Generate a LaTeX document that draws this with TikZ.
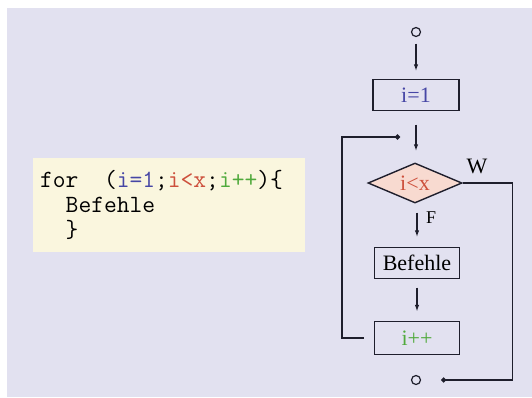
\documentclass[tikz,border=0pt]{standalone}
\usepackage{fontspec}
\setmainfont{Liberation Serif}
\usetikzlibrary{arrows.meta,shapes.geometric}

\definecolor{bglila}{RGB}{226,225,240}
\definecolor{codegelb}{RGB}{250,246,222}
\definecolor{rautefill}{RGB}{248,218,208}
\definecolor{linie}{RGB}{30,30,44}
\definecolor{blau}{RGB}{70,70,165}
\definecolor{rot}{RGB}{205,80,60}
\definecolor{gruen}{RGB}{80,170,60}

\begin{document}
\begin{tikzpicture}[x=1pt, y=-1pt,
	kasten/.style={draw=linie, line width=1.4pt, minimum width=86pt, minimum height=31pt, inner sep=0pt, font=\fontsize{22}{24}\selectfont},
	raute/.style={draw=linie, line width=1.4pt, fill=rautefill, diamond, aspect=2.35, minimum width=94pt, minimum height=40pt, inner sep=0pt, font=\fontsize{22}{24}\selectfont},
	punkt/.style={draw=linie, line width=1.2pt, circle, minimum size=9pt, inner sep=0pt},
	pfeil/.style={draw=linie, line width=1.4pt, -{Latex[length=7pt,width=4.5pt]}},
	linie/.style={draw=linie, line width=1.4pt},
	code/.style={anchor=base west, inner sep=0pt, font=\ttfamily\fontsize{24.8}{28}\selectfont}]

	\useasboundingbox (0,0) rectangle (532,397);
	\fill[bglila] (7,8) rectangle (532,397);

	% Quelltext
	\fill[codegelb] (33,158) rectangle (305,252);
	\node[code] (zeile1) at (40,187) {for\ \ (\textcolor{blau}{i=1};\textcolor{rot}{i<x};\textcolor{gruen}{i++})\{};
	\node[code] (zeile2) at (40,212) {\ \ Befehle};
	\node[code] (zeile3) at (40,237) {\ \ \}};

	% Ablauf
	\node[punkt] (start) at (416,32) {};
	\node[kasten] (init) at (416,95) {\textcolor{blau}{i=1}};
	\node[raute] (test) at (415,183) {\textcolor{rot}{i<x}};
	\node[kasten, minimum width=85pt] (befehle) at (417,263) {Befehle};
	\node[kasten, minimum width=85pt, minimum height=33pt] (inkr) at (417,338) {\textcolor{gruen}{i++}};
	\node[punkt] (stop) at (416,380) {};

	\node[font=\fontsize{22}{24}\selectfont] (wahr) at (477,166) {W};
	\node[font=\fontsize{18}{20}\selectfont] (falsch) at (431,218) {F};

	\coordinate (rueck) at (400,137);

	\draw[pfeil, shorten <=6.5pt, shorten >=7.5pt] (start) -- (init);
	\draw[pfeil, shorten <=13.5pt, shorten >=11pt] (init) -- (init |- test.north);
	\draw[pfeil, shorten <=9pt, shorten >=9.5pt] (befehle |- test.south) -- (befehle |- befehle.north);
	\draw[pfeil, shorten <=8.5pt, shorten >=9pt] (befehle) -- (inkr);

	% Schleife
	\draw[linie, shorten <=10pt, -{Circle[length=5pt]}] (inkr.west) -- ++(-32,0) |- (rueck);
	\draw[linie, shorten >=20pt, -{Circle[length=5pt]}] (test.east) -- ++(50,0) |- (stop);

\end{tikzpicture}
\end{document}
